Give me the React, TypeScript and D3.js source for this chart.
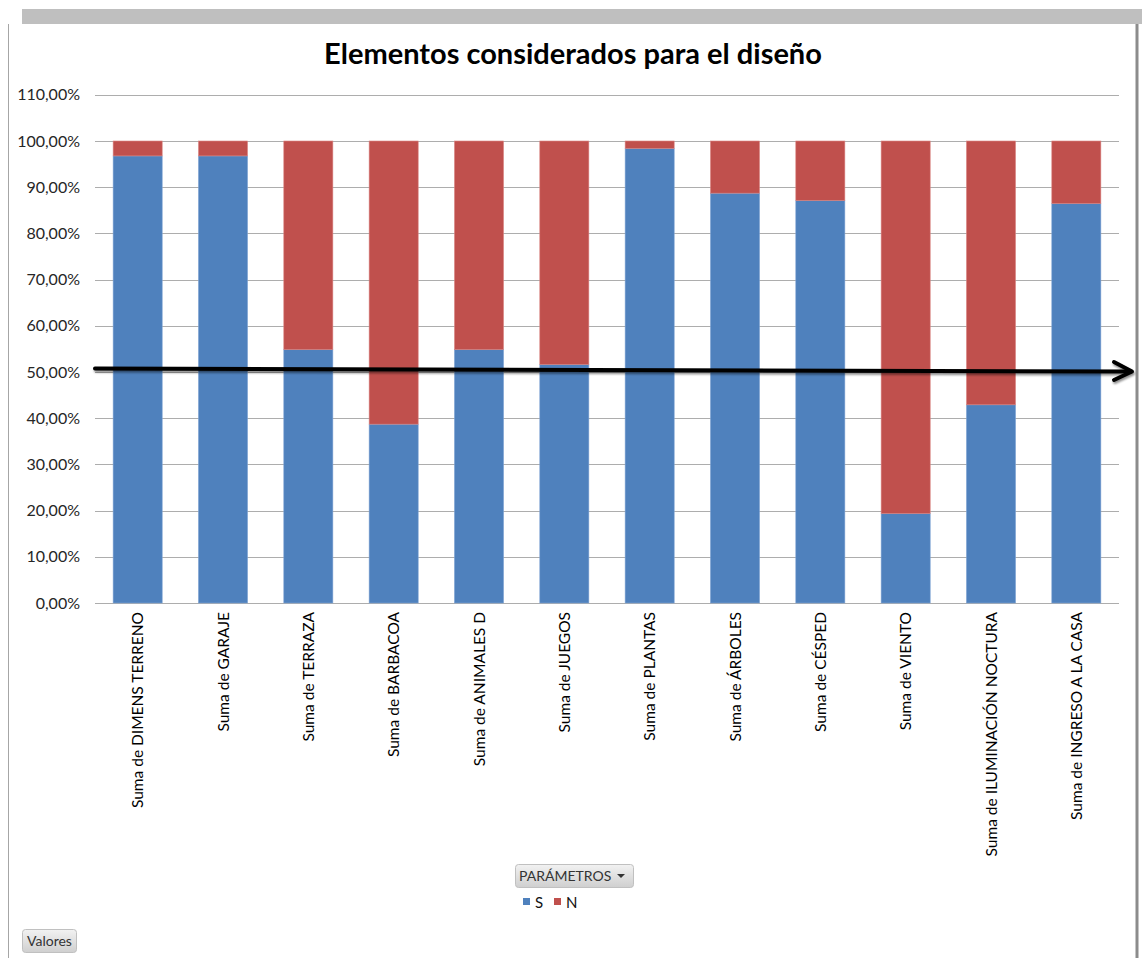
import React from "react";
import * as d3 from "d3";

const categories = [
  "Suma de DIMENS TERRENO",
  "Suma de GARAJE",
  "Suma de TERRAZA",
  "Suma de BARBACOA",
  "Suma de ANIMALES D",
  "Suma de JUEGOS",
  "Suma de PLANTAS",
  "Suma de ÁRBOLES",
  "Suma de CÉSPED",
  "Suma de VIENTO",
  "Suma de ILUMINACIÓN NOCTURA",
  "Suma de INGRESO A LA CASA",
];
const sValues = [0.9677, 0.9677, 0.5484, 0.3871, 0.5484, 0.5161, 0.9839, 0.8871, 0.8710, 0.1935, 0.4290, 0.8645];
const nValues = [0.0323, 0.0323, 0.4516, 0.6129, 0.4516, 0.4839, 0.0161, 0.1129, 0.1290, 0.8065, 0.5710, 0.1355];
const seriesKeys = ["S", "N"];
const seriesColors = ["#4F81BD", "#C0504D"];
const yTicks = [0, 0.1, 0.2, 0.3, 0.4, 0.5, 0.6, 0.7, 0.8, 0.9, 1.0, 1.1];
const title = "Elementos considerados para el diseño";
const legendTitle = "PARÁMETROS";
const valuesButton = "Valores";

const W = 1142;
const H = 958;
const FONT = "Lato, 'Open Sans', sans-serif";

export default function App() {
  const x = d3.scaleBand<string>().domain(categories).range([95, 1119]).paddingInner(0.425).paddingOuter(0.2125);
  const y = d3.scaleLinear().domain([0, 1.1]).range([603, 94.8]);
  const locale = d3.formatLocale({ decimal: ",", thousands: ".", grouping: [3], currency: ["", "€"] });
  const fmt = locale.format(".2%");

  const rows = categories.map((c, i) => ({ cat: c, S: sValues[i], N: nValues[i] }));
  const stacked = d3.stack<any>().keys(seriesKeys)(rows);

  return (
    <svg width={W} height={H} style={{ display: "block", position: "absolute", left: 0, top: 0 }}>
      <defs>
        <linearGradient id="btn" x1="0" y1="0" x2="0" y2="1">
          <stop offset="0" stopColor="#f2f2f2" />
          <stop offset="1" stopColor="#cfcfcf" />
        </linearGradient>
        <filter id="shadow" x="-10%" y="-50%" width="120%" height="200%">
          <feGaussianBlur in="SourceAlpha" stdDeviation="1.2" />
          <feOffset dx="1" dy="2" result="b" />
          <feComponentTransfer><feFuncA type="linear" slope="0.45" /></feComponentTransfer>
          <feMerge><feMergeNode /><feMergeNode in="SourceGraphic" /></feMerge>
        </filter>
      </defs>
      <rect x={0} y={0} width={W} height={H} fill="#ffffff" />
      {/* top gray band and borders */}
      <rect x={22} y={9} width={W - 22} height={15} fill="#bfbfbf" />
      <line x1={8.5} y1={24} x2={8.5} y2={H} stroke="#a6a6a6" strokeWidth={1} />
      <line x1={1137} y1={24} x2={1137} y2={H} stroke="#8c8c8c" strokeWidth={3} />

      <text x={573} y={64} textAnchor="middle" fontFamily={FONT} fontWeight={700} fontSize={29} fill="#000">
        {title}
      </text>

      {/* gridlines */}
      {yTicks.map((t) => (
        <line key={t} x1={95} x2={1119} y1={Math.round(y(t)) + 0.5} y2={Math.round(y(t)) + 0.5} stroke="#adadad" strokeWidth={1.2} />
      ))}
      {/* y labels */}
      {yTicks.map((t) => (
        <text key={"l" + t} x={80} y={y(t) + 5.5} textAnchor="end" fontFamily={FONT} fontSize={16} fill="#262626">
          {fmt(t)}
        </text>
      ))}

      {/* bars */}
      {stacked.map((s, si) => (
        <g key={s.key}>
          {s.map((d, i) => (
            <rect
              key={i}
              x={x(categories[i])}
              width={x.bandwidth()}
              y={y(d[1])}
              height={y(d[0]) - y(d[1])}
              fill={seriesColors[si]}
              stroke={si === 0 ? "#7fa3d3" : "#d98583"}
              strokeWidth={0.6}
            />
          ))}
        </g>
      ))}

      {/* category labels */}
      {categories.map((c) => {
        const cx = (x(c) as number) + x.bandwidth() / 2;
        return (
          <text
            key={c}
            transform={`translate(${cx + 5.5},612) rotate(-90)`}
            textAnchor="end"
            fontFamily={FONT}
            fontSize={15.5}
            fill="#000"
          >
            {c}
          </text>
        );
      })}

      {/* annotation arrow */}
      <g filter="url(#shadow)" stroke="#000" strokeWidth={4} strokeLinecap="round" fill="none">
        <line x1={95} y1={368.5} x2={1131} y2={371.5} />
        <polyline points="1114,362 1132,371.5 1114,380" strokeLinejoin="round" />
      </g>

      {/* legend */}
      <rect x={515.5} y={864.5} width={118} height={23} rx={3} fill="url(#btn)" stroke="#c0c0c0" />
      <text x={519} y={881} fontFamily={FONT} fontSize={14} fill="#333">{legendTitle}</text>
      <path d="M617,874 L625,874 L621,878 Z" fill="#333" />
      {seriesKeys.map((k, i) => (
        <g key={k} transform={`translate(${523 + i * 31},898)`}>
          <rect x={0} y={0} width={7} height={7} fill={seriesColors[i]} />
          <text x={12} y={10} fontFamily={FONT} fontSize={15} fill="#111">{k}</text>
        </g>
      ))}

      {/* Valores button */}
      <rect x={22.5} y={929.5} width={54} height={23} rx={3} fill="url(#btn)" stroke="#c0c0c0" />
      <text x={27} y={946} fontFamily={FONT} fontSize={14} fill="#333">{valuesButton}</text>
    </svg>
  );
}
